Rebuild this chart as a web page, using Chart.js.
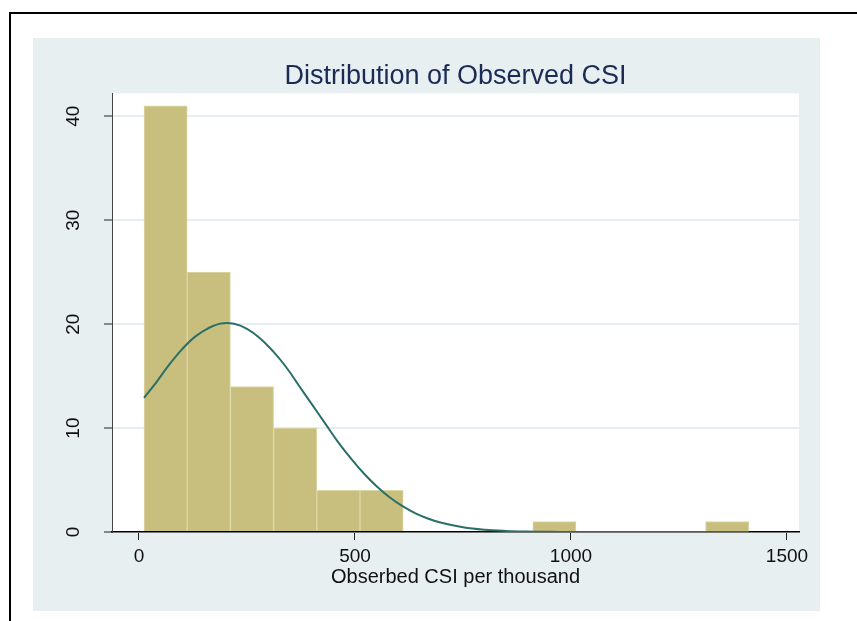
<!DOCTYPE html>
<html>
<head>
<meta charset="utf-8">
<script src="https://cdn.jsdelivr.net/npm/chart.js@4.4.0/dist/chart.umd.min.js"></script>
<style>
  html, body { margin: 0; padding: 0; background: #ffffff; }
  #wrap { width: 857px; height: 621px; position: relative; }
</style>
</head>
<body>
<div id="wrap"><canvas id="c" width="857" height="621"></canvas></div>
<script>
// ---- data ----
const binCenters = [61.6, 161.6, 261.6, 361.6, 461.6, 561.6, 961.6, 1361.6];
const binCounts  = [41, 25, 14, 10, 4, 4, 1, 1];
const curveX = [11.6, 40, 70, 100, 130, 160, 190, 220, 250, 280, 310, 340, 370, 400, 430, 460, 490, 520, 550, 580, 610, 640, 670, 700, 750, 800, 850, 900, 950, 1000, 1100, 1200, 1300, 1411.6];
const curveY = [12.9, 14.4, 16.1, 17.6, 18.8, 19.6, 20.06, 20.03, 19.55, 18.65, 17.4, 15.9, 14.1, 12.3, 10.5, 8.7, 7.1, 5.65, 4.4, 3.34, 2.48, 1.8, 1.28, 0.89, 0.46, 0.22, 0.1, 0.04, 0.015, 0.005, 0, 0, 0, 0];
const xTicks = [0, 500, 1000, 1500];
const yTicks = [0, 10, 20, 30, 40];
const titleText = 'Distribution of Observed CSI';
const xTitleText = 'Obserbed CSI per thousand';

const FONT = "'Liberation Sans', Arial, Helvetica, sans-serif";

const bgPlugin = {
  id: 'bg',
  beforeDraw(chart) {
    const ctx = chart.ctx;
    const a = chart.chartArea;
    ctx.save();
    ctx.fillStyle = '#ffffff';
    ctx.fillRect(0, 0, chart.width, chart.height);
    // outer frame
    ctx.strokeStyle = '#000000';
    ctx.lineWidth = 2;
    ctx.beginPath();
    ctx.moveTo(10, 640);
    ctx.lineTo(10, 13);
    ctx.lineTo(870, 13);
    ctx.stroke();
    // panel
    ctx.fillStyle = '#e8eff1';
    ctx.fillRect(33, 38, 787, 573);
    // plot area
    ctx.fillStyle = '#ffffff';
    ctx.fillRect(a.left, a.top, a.right - a.left, a.bottom - a.top);
    ctx.restore();
  }
};

new Chart(document.getElementById('c'), {
  data: {
    datasets: [
      {
        type: 'line',
        order: 0,
        data: curveX.map((x, i) => ({ x: x, y: curveY[i] })),
        borderColor: '#2a6f68',
        borderWidth: 2,
        pointRadius: 0,
        tension: 0.4,
        fill: false
      },
      {
        type: 'bar',
        order: 1,
        data: binCenters.map((x, i) => ({ x: x, y: binCounts[i] })),
        backgroundColor: '#c8bf7e',
        borderColor: '#ddd7a6',
        borderWidth: 1,
        barPercentage: 1,
        categoryPercentage: 1
      }
    ]
  },
  options: {
    responsive: false,
    animation: false,
    layout: { padding: { left: 33, right: 58, top: 60, bottom: 32 } },
    plugins: {
      legend: { display: false },
      tooltip: { enabled: false },
      title: {
        display: true,
        text: titleText,
        fullSize: false,
        color: '#1b2b55',
        font: { family: FONT, size: 27, weight: 'normal', lineHeight: 1.2 },
        padding: { top: 0, bottom: 1 }
      }
    },
    scales: {
      x: {
        type: 'linear',
        offset: false,
        min: -62.5,
        max: 1527.8,
        afterBuildTicks(s) { s.ticks = xTicks.map(v => ({ value: v })); },
        afterFit(s) { s.height = 57; },
        grid: { offset: false, drawOnChartArea: false, drawTicks: true, tickLength: 8, tickColor: '#222', tickWidth: 1 },
        border: { display: true, color: '#000', width: 1.5 },
        ticks: { color: '#111', padding: 5, font: { family: FONT, size: 19 }, maxRotation: 0, minRotation: 0,
                 callback: (v) => String(v) },
        title: { display: true, text: xTitleText, color: '#111', font: { family: FONT, size: 20 }, padding: { top: 0, bottom: 0 } }
      },
      y: {
        type: 'linear',
        min: 0,
        max: 42.2,
        afterBuildTicks(s) { s.ticks = yTicks.map(v => ({ value: v })); },
        afterFit(s) { s.width = 79; },
        grid: { color: '#e6eef1', lineWidth: 2, drawTicks: true, tickLength: 8, tickColor: '#222', tickWidth: 1 },
        border: { display: true, color: '#444', width: 1 },
        ticks: { color: '#111', padding: 20, crossAlign: 'center', minRotation: 90, maxRotation: 90, font: { family: FONT, size: 19 },
                 callback: (v) => String(v) }
      }
    }
  },
  plugins: [bgPlugin]
});
</script>
</body>
</html>
